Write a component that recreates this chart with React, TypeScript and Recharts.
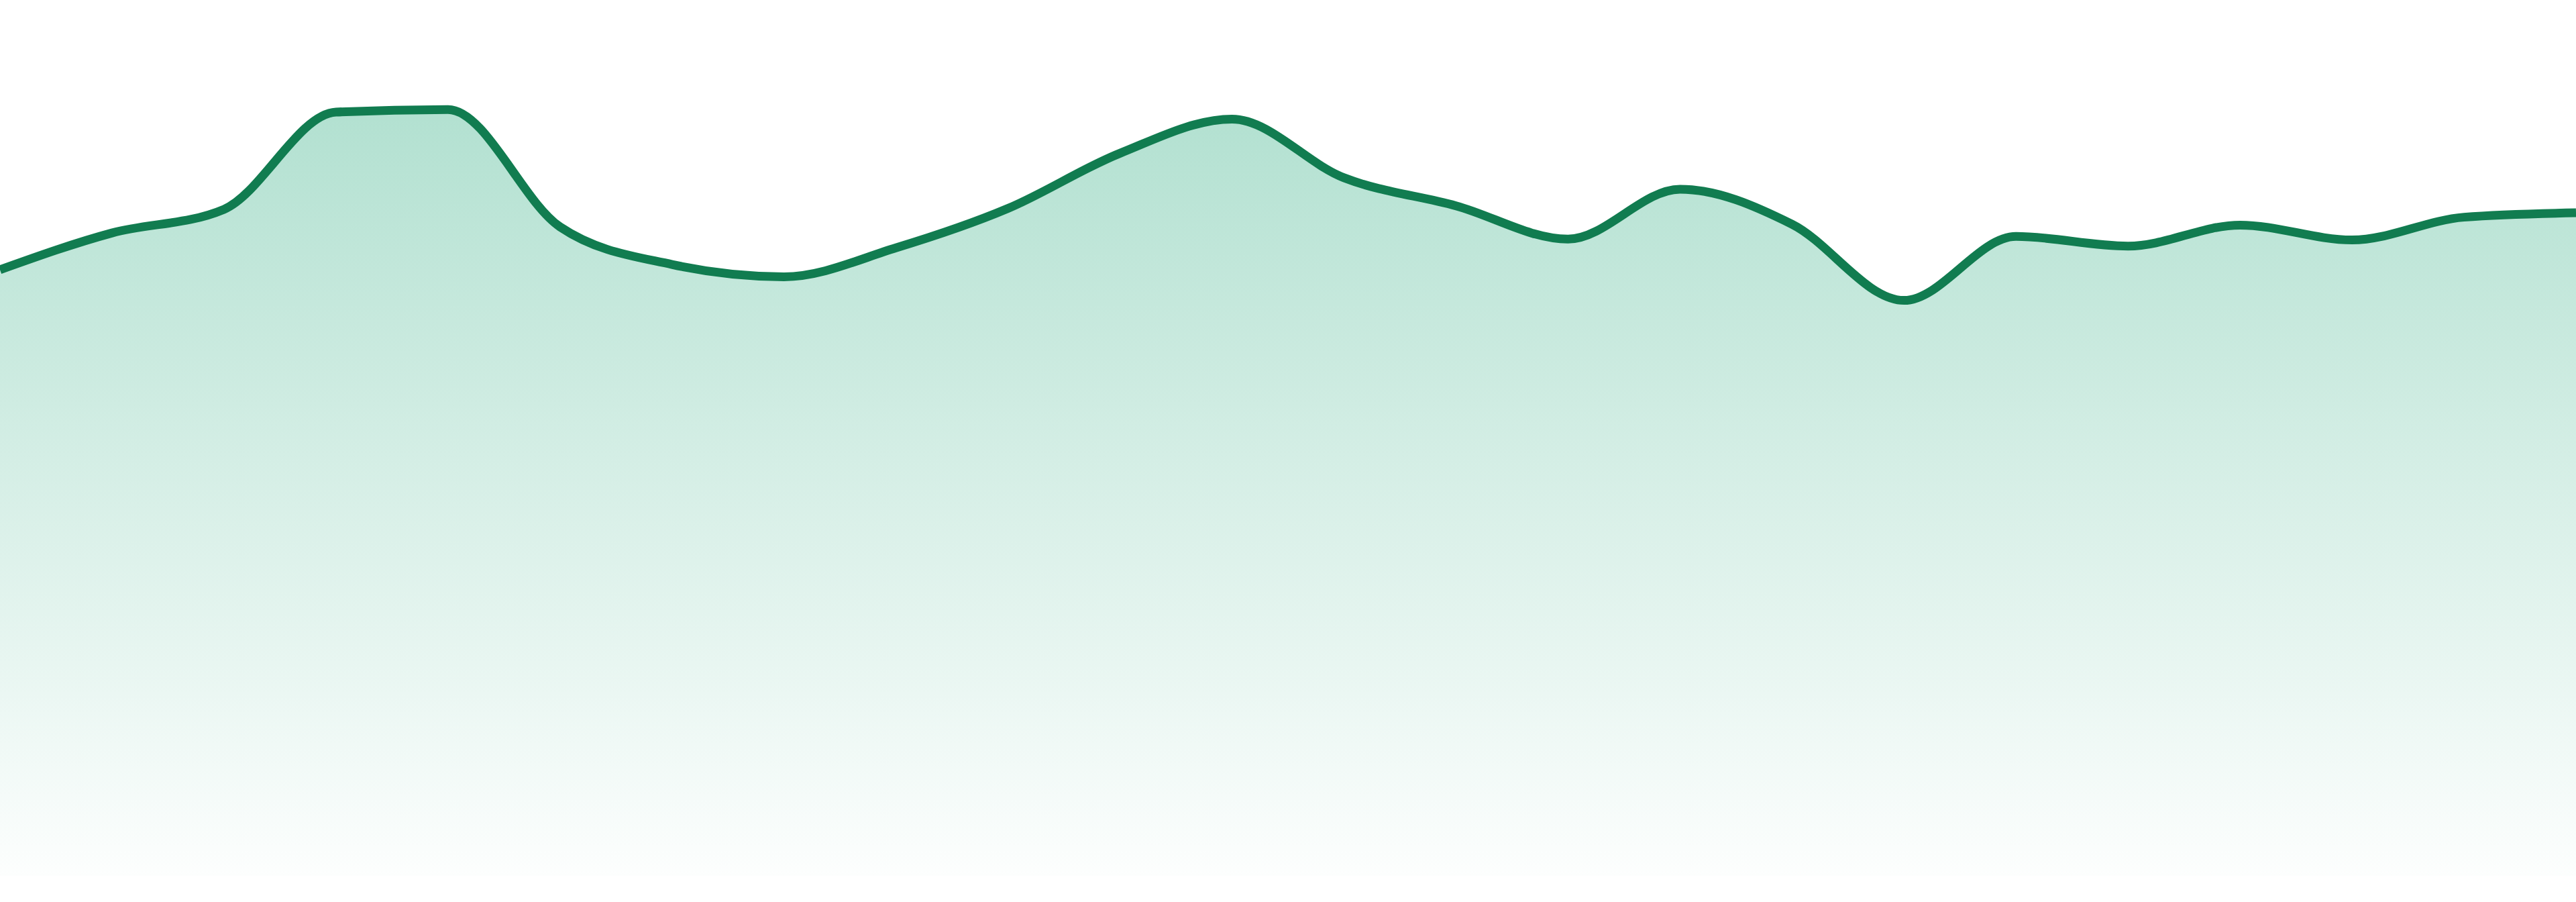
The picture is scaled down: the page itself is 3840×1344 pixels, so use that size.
import { AreaChart, Area, XAxis, YAxis } from "recharts";

// 24 evenly spaced samples (scale 0–100)
const labels: string[] = Array.from({ length: 24 }, (_, i) => `P${i + 1}`);
const values: number[] = [
  69.2, 73.4, 76.1, 87.2, 87.5, 74.1, 69.8, 68.4, 71.7, 76.2, 82.5, 86.4,
  79.7, 76.5, 72.7, 78.4, 74.4, 65.7, 73.0, 71.9, 74.3, 72.6, 75.2, 75.7,
];

const data = labels.map((label, i) => ({ label, value: values[i] }));

export default function App() {
  return (
    <div style={{ position: "absolute", left: 0, top: 0, background: "#ffffff" }}>
      <AreaChart width={3840} height={1344} data={data} margin={{ top: 0, right: 0, bottom: 39, left: 0 }}>
        <defs>
          <linearGradient id="areaFill" x1="0" y1="0" x2="0" y2="1">
            <stop offset="0%" stopColor="#0FA06E" stopOpacity={0.32} />
            <stop offset="100%" stopColor="#0FA06E" stopOpacity={0.01} />
          </linearGradient>
        </defs>
        <XAxis dataKey="label" hide />
        <YAxis hide domain={[0, 100]} />
        <Area
          type="monotone"
          dataKey="value"
          stroke="#117C50"
          strokeWidth={13}
          fill="url(#areaFill)"
          fillOpacity={1}
          dot={false}
          activeDot={false}
          isAnimationActive={false}
        />
      </AreaChart>
    </div>
  );
}
